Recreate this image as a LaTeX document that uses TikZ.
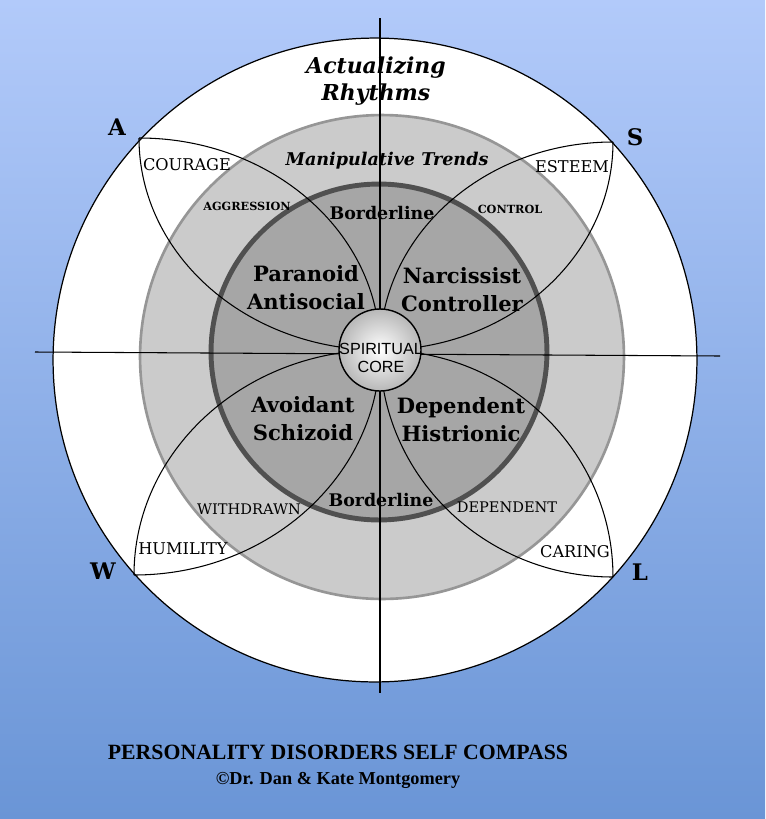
\documentclass[tikz,border=0pt]{standalone}
\usepackage{fontspec}
\setmainfont{DejaVu Serif}
\newfontfamily\timesfont{Liberation Serif}
\newfontfamily\arialfont{Liberation Sans}
\usetikzlibrary{calc}

\definecolor{skytop}{RGB}{178,202,250}
\definecolor{skybottom}{RGB}{106,149,214}
\definecolor{ringgray}{RGB}{203,203,203}
\definecolor{ringedge}{RGB}{150,150,150}
\definecolor{innergray}{RGB}{166,166,166}
\definecolor{inneredge}{RGB}{80,80,80}

\begin{document}
\begin{tikzpicture}[x=0.02cm, y=-0.02cm,
	petal/.style={draw=black, line width=0.6pt},
	axis/.style={draw=black, line width=0.6pt},
	disorder/.style={font=\bfseries\fontsize{12}{16}\selectfont, align=center},
	virtue/.style={font=\fontsize{9.2}{10}\selectfont},
	trend/.style={font=\fontsize{8.3}{10}\selectfont},
	trendbold/.style={font=\bfseries\fontsize{6.4}{8}\selectfont},
	point/.style={font=\bfseries\fontsize{13}{14}\selectfont},
	heading/.style={font=\bfseries\itshape\fontsize{12.5}{15.5}\selectfont, align=center}]
\useasboundingbox (0,0) rectangle (765,819);
\shade[top color=skytop, bottom color=skybottom] (0,0) rectangle (765,819);

% rings
\filldraw[fill=white, draw=black, line width=0.7pt] (375,360) circle (6.44cm);
\filldraw[fill=ringgray, draw=ringedge, line width=1.5pt] (382,357) circle (4.84cm);
\filldraw[fill=innergray, draw=inneredge, line width=2.8pt] (379,352) circle (3.36cm);

% petals
\coordinate (core) at (380,350);
\coordinate (nw) at (139,138);
\coordinate (ne) at (613,142);
\coordinate (sw) at (134,575);
\coordinate (se) at (613,577);
\foreach \p in {nw,ne,sw,se}
	\draw[petal] (\p) .. controls ($(\p)!0.552!(\p|-core)$) and ($(core)!0.552!(\p|-core)$) .. (core)
		.. controls ($(core)!0.552!(core|-\p)$) and ($(\p)!0.552!(core|-\p)$) .. (\p);

% axes
\coordinate (north) at (380,18);
\coordinate (south) at (380,693);
\coordinate (west) at (35,352);
\coordinate (east) at (720,356);
\draw[axis] (north) -- (south);
\draw[axis] (west) -- (east);

% core
\shade[inner color=white, outer color=black!28] (core) circle (0.82cm);
\draw[line width=0.8pt] (core) circle (0.82cm);
\node[font=\arialfont\fontsize{9.2}{10.2}\selectfont, align=center] (spirit) at (381,358) {SPIRITUAL\\CORE};

% labels
\node[heading] (rhythms) at (376,81) {Actualizing\\Rhythms};
\node[font=\bfseries\itshape\fontsize{10}{12}\selectfont] (trends) at (387,161) {Manipulative Trends};
\node[font=\bfseries\fontsize{9.9}{12}\selectfont] (bordertop) at (382,213) {Borderline};
\node[font=\bfseries\fontsize{9.9}{12}\selectfont] (borderbot) at (381,500) {Borderline};

\node[disorder] (paranoid) at (306,288) {Paranoid\\Antisocial};
\node[disorder] (narcissist) at (462,290) {Narcissist\\Controller};
\node[disorder] (avoidant) at (303,419) {Avoidant\\Schizoid};
\node[disorder] (dependent) at (461,420) {Dependent\\Histrionic};

\node[virtue] (courage) at (187,165) {COURAGE};
\node[virtue] (esteem) at (572,167) {ESTEEM};
\node[virtue] (humility) at (183,549) {HUMILITY};
\node[virtue] (caring) at (575,552) {CARING};

\node[trendbold] (aggression) at (247,206) {AGGRESSION};
\node[trendbold] (control) at (510,209) {CONTROL};
\node[trend] (withdrawn) at (249,509) {WITHDRAWN};
\node[trend] (dependence) at (507,507) {DEPENDENT};

\node[point] (a) at (117,127) {A};
\node[point] (s) at (635,137) {S};
\node[point] (w) at (103,571) {W};
\node[point] (l) at (640,572) {L};

% title
\node[font=\timesfont\bfseries\fontsize{12.4}{14}\selectfont] (title) at (338,752) {PERSONALITY DISORDERS SELF COMPASS};
\node[font=\timesfont\bfseries\fontsize{10.4}{12}\selectfont] (authors) at (338,780) {©Dr. Dan \& Kate Montgomery};
\end{tikzpicture}
\end{document}
